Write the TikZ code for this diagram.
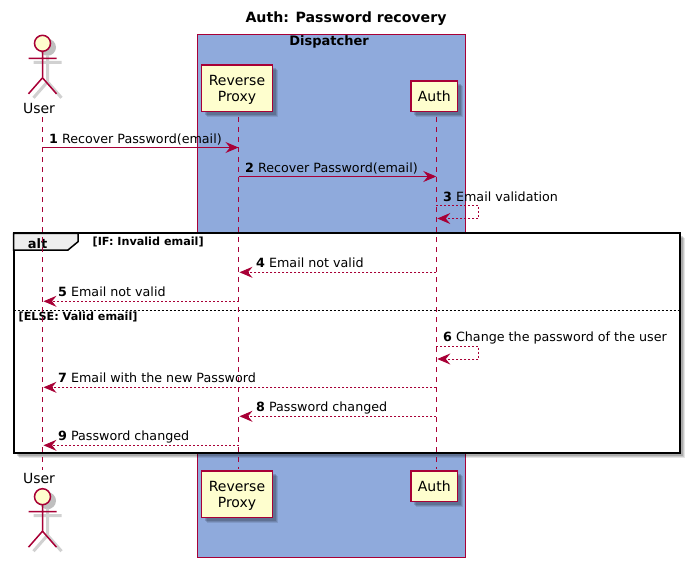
\documentclass[tikz,border=0pt]{standalone}
\usepackage{fontspec}
\setmainfont{DejaVu Sans}
\usetikzlibrary{positioning,calc,arrows.meta,shadows}
\definecolor{cCrimson}{HTML}{A80036}
\definecolor{cCream}{HTML}{FEFECE}
\definecolor{cBlue}{HTML}{8FAADC}
\definecolor{cTab}{HTML}{EEEEEE}
\tikzset{
  boxshadow/.style={
    drop shadow={shadow xshift=5pt,shadow yshift=-5pt,fill=black,opacity=0.1},
    drop shadow={shadow xshift=4pt,shadow yshift=-4pt,fill=black,opacity=0.12},
    drop shadow={shadow xshift=3pt,shadow yshift=-3pt,fill=black,opacity=0.15}},
  part/.style={rectangle,draw=cCrimson,line width=1.5pt,fill=cCream,boxshadow,align=center,inner sep=0pt,
    font=\fontsize{14}{16}\selectfont,text=black},
  actorname/.style={font=\fontsize{14}{16}\selectfont,inner sep=0pt,anchor=base},
  lifeline/.style={draw=cCrimson,line width=1pt,dash pattern=on 5pt off 5pt},
  call/.style={draw=cCrimson,line width=1pt,-{Stealth[length=13pt,width=11pt,inset=4.5pt,cCrimson]}},
  back/.style={call,dash pattern=on 2pt off 2pt,shorten >=1pt},
  msgtxt/.style={font=\fontsize{12.7}{15}\selectfont,inner sep=0pt,anchor=base west},
  guardtxt/.style={font=\fontsize{11.2}{13}\selectfont\bfseries,inner sep=0pt,anchor=base west},
  actorman/.pic={
    \begin{scope}[xshift=5pt,yshift=-4pt,draw=black!18,line width=3pt]
      \fill[black!25] (0,0) circle (8.5pt);
      \draw (0,8) -- (0,34.5) (-14,15) -- (14,15) (-14,50.5) -- (0,34.5) -- (14,50.5);
    \end{scope}
    \draw[cCrimson,line width=1.5pt,fill=cCream] (0,0) circle (8pt);
    \draw[cCrimson,line width=1.5pt] (0,8) -- (0,34.5) (-14,15) -- (14,15) (-14,50.5) -- (0,34.5) -- (14,50.5);
  },
}

\begin{document}
\begin{tikzpicture}[x=1pt,y=-1pt]
  \useasboundingbox (0,0) rectangle (690,567);
  \node[font=\fontsize{14.15}{16}\selectfont\bfseries,inner sep=0pt,anchor=base] (title) at (346,23) {Auth: Password recovery};
  % dispatcher box
  \node[rectangle,draw=cCrimson,line width=1pt,fill=cBlue,inner sep=0pt,outer sep=0pt,minimum width=268pt,minimum height=523pt,anchor=north west] (dispatcher) at (197.5,34.5) {};
  \node[font=\fontsize{13}{15}\selectfont\bfseries,inner sep=0pt,anchor=base] (dispname) at (329,46) {Dispatcher};
  % alt frame
  \node[rectangle,draw=black,line width=2pt,fill=white,boxshadow,inner sep=0pt,outer sep=0pt,minimum width=666pt,minimum height=220pt,anchor=north west] (altbox) at (13.5,233.3) {};
  \draw[line width=1.5pt,draw=black,fill=cTab] (altbox.north west) -- (78,233.3) -- (78,241.7) -- (68,250) -- (13.5,250) -- cycle;
  \node[font=\fontsize{13}{15}\selectfont\bfseries,inner sep=0pt,anchor=base] (altname) at (37.5,248) {alt};
  \node[guardtxt] (ifguard) at (92.5,245.5) {[IF: Invalid email]};
  \coordinate (divider) at (0,310.3);
  \draw[line width=1pt,dash pattern=on 2pt off 2pt] (altbox.west |- divider) -- (altbox.east |- divider);
  \node[guardtxt] (elseguard) at (18.5,320.5) {[ELSE: Valid email]};
  % participants
  \node[part,minimum width=71pt,minimum height=46.5pt] (proxyTop) at (237,88.3) {\rule{0pt}{13pt}Reverse\\Proxy};
  \node[part,below=358pt of proxyTop.south,anchor=north,minimum width=71pt,minimum height=46.5pt] (proxyBot) {\rule{0pt}{13pt}Reverse\\Proxy};
  \node[part,minimum width=46.5pt,minimum height=30.5pt] (authTop) at (434.3,96.3) {Auth};
  \node[part,below=358pt of authTop.south,anchor=north,minimum width=46.5pt,minimum height=30.5pt] (authBot) {Auth};
  \node[actorname] (userTop) at (39,113.5) {User};
  \node[actorname] (userBot) at (39,483) {User};
  \pic (manTop) at (42.5,43.3) {actorman};
  \pic (manBot) at (42.5,496.7) {actorman};
  % lifelines
  \foreach \a/\x/\ya/\yb in {U/42.5/117/470,P/238.5/117/469,A/436.3/117/469} {
    \coordinate (line\a) at (\x,\ya);
    \coordinate (end\a) at (\x,\yb);
    \draw[lifeline] (line\a) -- (end\a);
  }
  % messages
  \foreach \n/\a/\b/\y/\kind/\lx/\txt in {
    1/U/P/147.5/call/49/Recover Password(email),
    2/P/A/176.5/call/245/Recover Password(email),
    4/A/P/272.3/back/256/Email not valid,
    5/P/U/301.3/back/58/Email not valid,
    7/A/U/387.3/back/58/Email with the new Password,
    8/A/P/416.3/back/256/Password changed,
    9/P/U/445.3/back/58/Password changed} {
    \coordinate (s\n) at (line\a |- 0,\y);
    \coordinate (e\n) at (line\b |- 0,\y);
    \draw[\kind] (s\n) -- (e\n);
    \node[msgtxt] (txt\n) at (\lx,\y-4.5) {\textbf{\n} \txt};
  }
  % self messages
  \foreach \n/\y/\txt in {3/205.5/Email validation,6/346/Change the password of the user} {
    \coordinate (s\n) at (lineA |- 0,\y);
    \coordinate (e\n) at (lineA |- 0,\y+13);
    \draw[back] (s\n) -- ++(42.5pt,0) |- (e\n);
    \node[msgtxt] (txt\n) at (443,\y-4.5) {\textbf{\n} \txt};
  }
\end{tikzpicture}
\end{document}
